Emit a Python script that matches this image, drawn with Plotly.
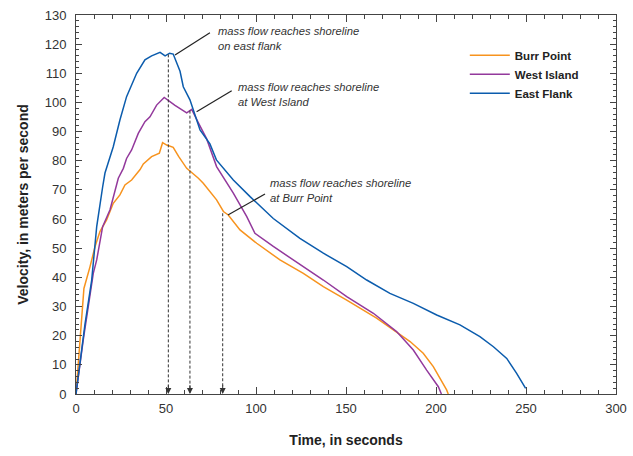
import plotly.graph_objects as go

# ---- data ----
burr_t = [0, 2.2, 4.4, 7.8, 10.6, 13.3, 17, 20.7, 24.4, 27.2, 30.9, 35.6, 37.4, 42, 46.3, 48.1, 50.4, 54, 57, 61.5, 63.3, 68, 70.7, 78.1, 81.9, 84.6, 91.1, 100.4, 113.3, 126.3, 137.4, 150.4, 167, 178.1, 185.6, 192.9, 198.5, 205.9, 206.8]
burr_v = [0, 18.5, 36.2, 43.7, 50.6, 55.7, 59.7, 65.4, 68.3, 71.7, 73.4, 77, 78.9, 81.4, 82.6, 86.2, 85.4, 84.6, 81.5, 77.4, 76.5, 74, 72.3, 66.6, 62.6, 61.4, 56.3, 51.7, 46, 41.4, 36.8, 32.2, 26, 21.4, 18, 14, 9.4, 1.4, 0]

west_t = [0, 4, 9.6, 11.5, 14.8, 18.9, 23.5, 26.3, 28.1, 30.9, 34.6, 38.3, 41.1, 44.8, 49, 55, 61.5, 64.3, 68, 72.6, 78.1, 87.4, 94.8, 99.4, 109.6, 120.7, 137.4, 150.4, 165.2, 178.1, 187.4, 194.8, 201.3, 203]
west_v = [0, 18.5, 41.4, 46, 57.4, 63.2, 74, 77.4, 80.8, 83.7, 89.4, 93.4, 95.1, 99.1, 101.7, 99, 96.4, 97.6, 93, 87.5, 78, 68.9, 60.9, 55.1, 50.6, 46, 39.1, 33.4, 27.7, 21.4, 15.1, 8.2, 2.5, 0]

east_t = [0, 2, 5, 8.7, 11.5, 14.8, 16.1, 20.7, 24.4, 28.1, 33.7, 38.3, 42, 46.7, 49.5, 52, 54, 57.8, 59.6, 63.3, 68.9, 74.4, 78, 87.4, 96.7, 109.6, 124.4, 137.4, 150.4, 161.5, 174.4, 187.4, 200.4, 213.3, 224.4, 231.9, 239.3, 244.8, 249.8]
east_v = [0, 10, 24, 39, 57.4, 71, 75.8, 84.8, 94, 102, 110, 114.6, 116, 117.2, 116, 116.9, 116.6, 110.7, 105.4, 100.9, 90.6, 85.8, 80.3, 73.4, 67.7, 60.2, 53.4, 48.3, 43.7, 39.1, 34.5, 31.1, 27.1, 23.7, 19.7, 16.2, 12.2, 7.1, 1.9]

series_names = ["Burr Point", "West Island", "East Flank"]
series_colors = ["#F7931E", "#93399C", "#0B5CAD"]

# shoreline events: time, velocity at which the dashed drop line starts
event_t = [51.3, 63.3, 81.5]
event_v = [116.5, 97.2, 62.0]

# annotation texts with leader lines (from text end to curve point)
note_text = ["mass flow reaches shoreline<br>on east flank",
             "mass flow reaches shoreline<br>at West Island",
             "mass flow reaches shoreline<br>at Burr Point"]
note_x = [77.8, 88.9, 106.7]
note_y = [121.9, 102.6, 69.8]
lead_x0 = [74.4, 86.5, 105.0]
lead_y0 = [123.9, 104.0, 68.6]
lead_x1 = [55.0, 67.0, 84.4]
lead_y1 = [116.3, 96.8, 61.4]

FONT = "Liberation Sans, Arial, sans-serif"

fig = go.Figure()
for t, v, n, c in zip([burr_t, west_t, east_t], [burr_v, west_v, east_v], series_names, series_colors):
    fig.add_trace(go.Scatter(x=t, y=v, mode="lines", name="<b>" + n + "</b>",
                             line=dict(color=c, width=1.5)))

# dashed drop lines with arrowheads
for t, v in zip(event_t, event_v):
    fig.add_shape(type="line", x0=t, x1=t, y0=v, y1=0.5, xref="x", yref="y",
                  line=dict(color="#333333", width=1, dash="3px,2px"))
    fig.add_annotation(x=t, y=0, ax=t, ay=3.5, xref="x", yref="y", axref="x", ayref="y",
                       text="", showarrow=True, arrowhead=2, arrowsize=1.2,
                       arrowwidth=1, arrowcolor="#333333")

# leader lines and notes
for i in range(3):
    fig.add_shape(type="line", x0=lead_x0[i], y0=lead_y0[i], x1=lead_x1[i], y1=lead_y1[i],
                  xref="x", yref="y", line=dict(color="#222222", width=1.2))
    fig.add_annotation(x=note_x[i], y=note_y[i], xref="x", yref="y", text="<i>" + note_text[i] + "</i>",
                       showarrow=False, xanchor="left", yanchor="middle", align="left",
                       font=dict(family=FONT, size=11.2, color="#333333"))

axis_common = dict(showline=True, linecolor="#444444", linewidth=1, mirror="allticks",
                   ticks="inside", tickcolor="#444444", showgrid=False, zeroline=False,
                   automargin=False,
                   tickfont=dict(family=FONT, size=13, color="#333333"))

fig.update_xaxes(range=[0, 300], tickvals=[0, 50, 100, 150, 200, 250, 300], ticklen=7,
                 ticklabelstandoff=2,
                 minor=dict(ticks="inside", dtick=10, ticklen=4, tickcolor="#444444"),
                 title=dict(text="<b>Time, in seconds</b>", font=dict(family=FONT, size=14, color="#222222"),
                            standoff=20),
                 **axis_common)
fig.update_yaxes(range=[0, 130], dtick=10, ticklen=6, ticklabelstandoff=6,
                 minor=dict(ticks="inside", dtick=2, ticklen=3, tickcolor="#444444"),
                 title=dict(text="<b>Velocity, in meters per second</b>", font=dict(family=FONT, size=14, color="#222222"),
                            standoff=12),
                 **axis_common)

fig.update_layout(
    width=633, height=456,
    margin=dict(l=76, r=17, t=15, b=62),
    plot_bgcolor="white", paper_bgcolor="white",
    showlegend=True,
    legend=dict(x=0.72, y=0.932, xanchor="left", yanchor="top", bgcolor="rgba(0,0,0,0)",
                font=dict(family=FONT, size=11.5, color="#222222"), tracegroupgap=0,
                itemwidth=40),
    font=dict(family=FONT),
)

fig.write_html("out.html", config={"displayModeBar": False},
               post_script="document.body.style.margin='0';document.body.style.overflow='hidden';")
